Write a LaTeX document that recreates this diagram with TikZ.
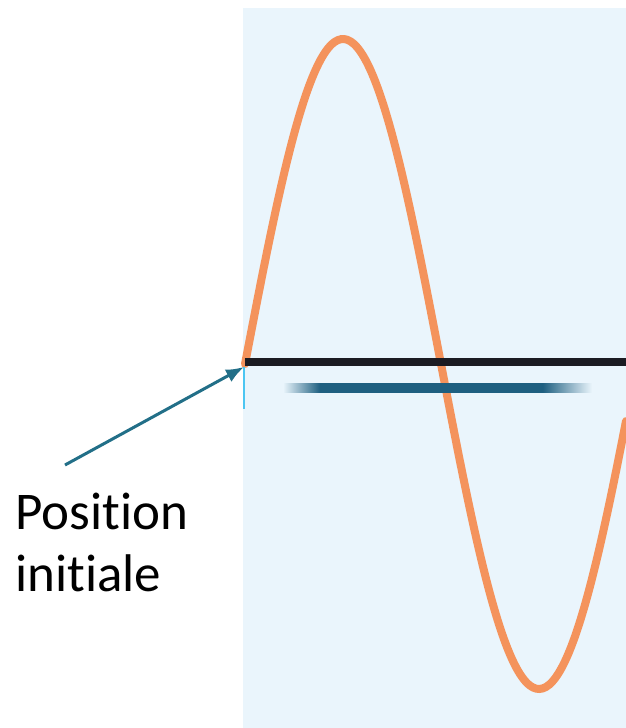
\documentclass[tikz,border=0pt]{standalone}
\usepackage{fontspec}
\setmainfont[Ligatures=NoCommon]{Carlito}
\usetikzlibrary{arrows.meta}
\definecolor{cSky}{HTML}{EAF5FC}
\definecolor{cOrange}{HTML}{F4935C}
\definecolor{cRod}{HTML}{1B1B22}
\definecolor{cTeal}{HTML}{1E5F80}
\definecolor{cArrow}{HTML}{226F88}
\definecolor{cCyan}{HTML}{4CC6F2}
\pgfdeclarehorizontalshading{barfade}{100bp}{color(0bp)=(cSky); color(25bp)=(cSky); color(31bp)=(cTeal); color(67bp)=(cTeal); color(75bp)=(cSky); color(100bp)=(cSky)}

\begin{document}
\begin{tikzpicture}[
  x=1pt, y=-1pt,
  >={Latex[length=18pt,width=14pt]},
  wave/.style={cOrange,line width=8pt,line cap=round},
  rod/.style={cRod,line width=7.5pt},
  pointer/.style={->,cArrow,line width=3pt},
  caption/.style={font=\fontsize{53}{62}\selectfont,align=left,inner sep=0pt,anchor=north west}
]
\useasboundingbox (0,0) rectangle (626,728);
\fill[cSky] (243,8) rectangle (626,728);

% oscillating string
\draw[wave] plot[domain=245:626,samples=120,smooth] (\x,{364-325*sin((\x-245)/392*360)});

% rest position and its shadow
\draw[rod] (245,362) -- (626,362);
\shade[shading=barfade] (283,383) rectangle (592,392);

% label
\coordinate (start) at (244,367);
\coordinate (tail) at (65,465);
\draw[cCyan,line width=2pt] (start) -- ++(0,42);
\node[caption] (label) at (15,493) {Position\\initiale};
\draw[pointer] (tail) -- (start);

\end{tikzpicture}
\end{document}
